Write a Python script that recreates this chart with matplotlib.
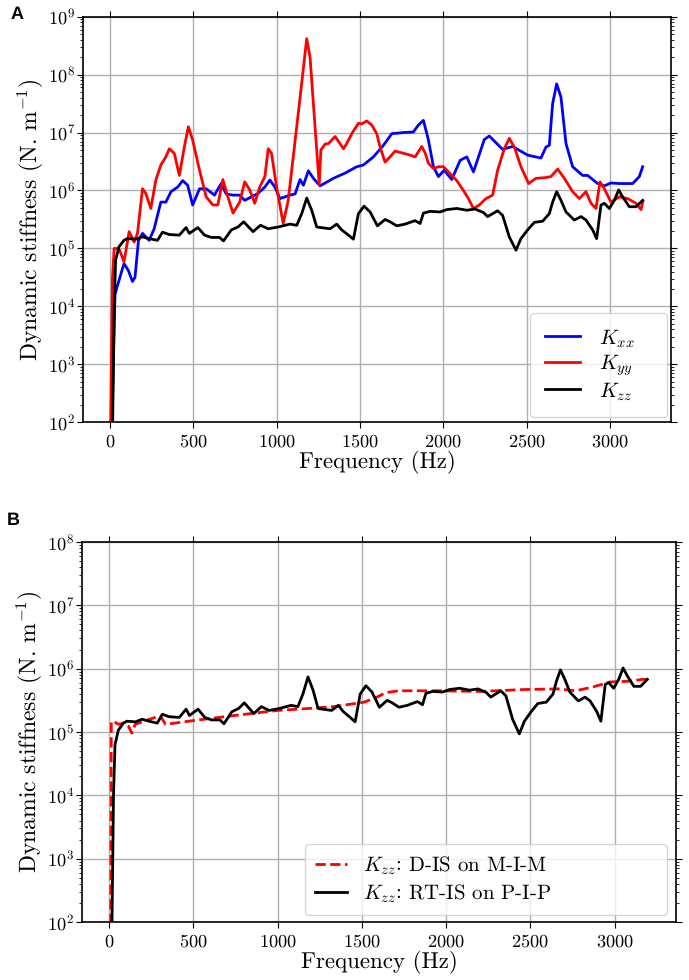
import matplotlib
import numpy as np

matplotlib.use("Agg")
import matplotlib.pyplot as plt  # noqa: E402

# values: frequency in Hz, stiffness as log10(N/m)
FREQ_XX = [8, 30, 44, 84, 110, 135, 150, 171, 195, 235, 265, 305, 335, 366, 406, 436,
           466, 496, 537, 577, 627, 667, 697, 738, 778, 808, 848, 888, 929, 959, 989,
           1019, 1079, 1110, 1140, 1160, 1190, 1220, 1260, 1340, 1410, 1480, 1520, 1580,
           1640, 1690, 1760, 1820, 1850, 1880, 1910, 1940, 1970, 2004, 2050, 2100, 2140,
           2180, 2215, 2245, 2275, 2355, 2415, 2505, 2585, 2615, 2635, 2655, 2679, 2705,
           2735, 2775, 2835, 2865, 2925, 2965, 3005, 3055, 3135, 3175, 3195]
LOG_KXX = [1.5, 4.2, 4.35, 4.74, 4.62, 4.43, 4.5, 5.14, 5.26, 5.14, 5.34, 5.80, 5.80,
           5.98, 6.06, 6.17, 6.09, 5.75, 6.03, 6.03, 5.92, 6.12, 5.94, 5.92, 5.92, 5.83,
           5.89, 5.95, 6.06, 6.18, 6.06, 5.86, 5.92, 5.94, 6.19, 6.09, 6.34, 6.21, 6.08,
           6.21, 6.30, 6.41, 6.44, 6.58, 6.78, 6.98, 7.00, 7.01, 7.13, 7.21, 6.87, 6.41,
           6.24, 6.35, 6.19, 6.52, 6.58, 6.32, 6.62, 6.88, 6.94, 6.71, 6.76, 6.61, 6.56,
           6.75, 6.78, 7.50, 7.84, 7.61, 6.81, 6.41, 6.26, 6.26, 6.12, 6.08, 6.13, 6.12,
           6.12, 6.24, 6.41]

FREQ_YY = [2, 15, 25, 38, 58, 84, 115, 145, 165, 195, 215, 245, 275, 305, 335, 356, 386,
           416, 446, 470, 496, 537, 577, 617, 647, 677, 707, 738, 778, 808, 838, 868, 898,
           929, 949, 969, 999, 1039, 1069, 1100, 1140, 1180, 1200, 1220, 1240, 1255, 1265,
           1290, 1310, 1350, 1370, 1400, 1420, 1450, 1490, 1510, 1540, 1570, 1600, 1620,
           1650, 1680, 1710, 1750, 1790, 1830, 1870, 1890, 1910, 1940, 1970, 2000, 2040,
           2080, 2120, 2150, 2180, 2215, 2255, 2295, 2325, 2365, 2395, 2425, 2465, 2511,
           2555, 2605, 2645, 2685, 2725, 2775, 2815, 2855, 2885, 2915, 2939, 2965, 3005,
           3055, 3105, 3155, 3185, 3195]
LOG_KYY = [1.5, 4.5, 5.0, 5.0, 4.97, 4.77, 5.29, 5.11, 5.26, 6.03, 5.95, 5.69, 6.18,
           6.44, 6.58, 6.72, 6.64, 6.26, 6.75, 7.10, 6.87, 6.35, 5.89, 5.75, 5.75, 6.19,
           5.89, 5.61, 5.80, 6.15, 6.01, 5.78, 6.06, 6.24, 6.72, 6.64, 6.06, 5.43, 5.83,
           6.6, 7.6, 8.62, 8.3, 7.5, 6.7, 6.1, 6.7, 6.8, 6.81, 6.93, 6.85, 6.72, 6.81,
           6.98, 7.16, 7.15, 7.20, 7.13, 6.98, 6.75, 6.49, 6.58, 6.68, 6.65, 6.62, 6.58,
           6.76, 6.65, 6.47, 6.38, 6.41, 6.41, 6.29, 6.17, 6.0, 5.86, 5.69, 5.75, 5.86,
           5.92, 6.35, 6.72, 6.90, 6.75, 6.41, 6.12, 6.21, 6.22, 6.24, 6.37, 6.21, 5.98,
           5.86, 5.98, 5.78, 5.69, 6.15, 6.03, 5.80, 5.89, 5.86, 5.78, 5.67, 5.80]

FREQ_ZZ = [14, 25, 34, 54, 84, 105, 155, 195, 235, 285, 315, 356, 416, 456, 476, 527,
           567, 607, 657, 681, 728, 768, 802, 858, 903, 949, 1009, 1079, 1120, 1150, 1180,
           1210, 1240, 1320, 1360, 1390, 1430, 1460, 1490, 1524, 1560, 1604, 1650, 1680,
           1720, 1770, 1830, 1860, 1880, 1920, 1980, 2020, 2080, 2140, 2190, 2240, 2265,
           2325, 2355, 2395, 2435, 2465, 2505, 2545, 2595, 2635, 2655, 2679, 2705, 2735,
           2785, 2825, 2855, 2895, 2919, 2945, 2965, 2995, 3025, 3051, 3075, 3115, 3155,
           3195]
LOG_KZZ = [1.5, 4.0, 4.80, 5.03, 5.14, 5.17, 5.16, 5.20, 5.17, 5.14, 5.28, 5.24, 5.23,
           5.36, 5.26, 5.36, 5.23, 5.19, 5.19, 5.13, 5.32, 5.37, 5.46, 5.29, 5.40, 5.34,
           5.37, 5.42, 5.40, 5.60, 5.87, 5.66, 5.37, 5.34, 5.42, 5.32, 5.23, 5.16, 5.60,
           5.73, 5.63, 5.39, 5.50, 5.46, 5.39, 5.42, 5.48, 5.43, 5.61, 5.64, 5.63, 5.67,
           5.69, 5.66, 5.68, 5.62, 5.55, 5.65, 5.57, 5.20, 4.97, 5.17, 5.32, 5.45, 5.47,
           5.60, 5.80, 5.98, 5.83, 5.63, 5.49, 5.55, 5.49, 5.32, 5.17, 5.75, 5.78, 5.69,
           5.83, 6.01, 5.89, 5.72, 5.72, 5.83]

FREQ_DIS = [8, 12, 25, 55, 85, 114, 134, 154, 204, 284, 304, 334, 500, 744, 1000, 1180,
            1333, 1385, 1513, 1590, 1641, 1718, 1949, 2205, 2462, 2667, 2769, 2872, 2974,
            3077, 3167, 3200]
LOG_KZZ_DIS = [1.5, 5.16, 5.17, 5.12, 5.14, 5.09, 4.98, 5.12, 5.17, 5.24, 5.25, 5.12,
               5.18, 5.26, 5.34, 5.37, 5.40, 5.42, 5.47, 5.55, 5.62, 5.65, 5.65, 5.64,
               5.67, 5.68, 5.65, 5.71, 5.79, 5.80, 5.83, 5.83]

XTICKS = [0, 500, 1000, 1500, 2000, 2500, 3000]

plt.rcParams.update(
    {
        "font.family": "cmr10",
        "mathtext.fontset": "cm",
        "axes.formatter.use_mathtext": True,
        "text.hinting": "none",
        "axes.linewidth": 1.2,
        "xtick.direction": "out",
        "ytick.direction": "out",
        "xtick.top": True,
        "ytick.right": True,
        "xtick.labelsize": 13.2,
        "ytick.labelsize": 13.2,
        "xtick.major.size": 4,
        "ytick.major.size": 4.5,
        "ytick.minor.size": 2.5,
        "xtick.major.pad": 4,
        "ytick.major.pad": 1.5,
        "grid.color": "#b0b0b0",
        "grid.linewidth": 1.0,
    }
)


def style_axes(ax, ymax):
    ax.set_yscale("log")
    ax.set_xlim(-160, 3365)
    ax.set_ylim(1e2, ymax)
    ax.set_xticks(XTICKS)
    ax.grid(True, which="major")
    ax.set_axisbelow(True)
    ax.set_xlabel("Frequency (Hz)", fontsize=16.5, labelpad=0)
    ax.set_ylabel(r"Dynamic stiffness $(\mathrm{N.\,m}^{-1})$", fontsize=17, labelpad=2)


fig = plt.figure(figsize=(6.89, 9.8), dpi=100)

ax1 = fig.add_axes([0.1209, 0.5691, 0.8530, 0.4139])
ax1.plot(FREQ_XX, 10 ** np.array(LOG_KXX), color="#0000ff", lw=2, label=r"$K_{xx}$")
ax1.plot(FREQ_YY, 10 ** np.array(LOG_KYY), color="#ff0000", lw=2, label=r"$K_{yy}$")
ax1.plot(FREQ_ZZ, 10 ** np.array(LOG_KZZ), color="black", lw=2, label=r"$K_{zz}$")
style_axes(ax1, 1e9)
ax1.legend(
    loc="lower left",
    bbox_to_anchor=(0.76, 0.013, 0.233, 0.25),
    mode="expand",
    borderaxespad=0,
    fontsize=15,
    borderpad=0.7,
    labelspacing=0.15,
    handlelength=1.7,
    handletextpad=0.9,
    edgecolor="#cccccc",
    fancybox=True,
)

ax2 = fig.add_axes([0.1195, 0.0592, 0.8616, 0.3878])
ax2.plot(FREQ_DIS, 10 ** np.array(LOG_KZZ_DIS), color="#ff0000", lw=2, ls="--",
         label=r"$K_{zz}$: D-IS on M-I-M")
ax2.plot(FREQ_ZZ, 10 ** np.array(LOG_KZZ), color="black", lw=2,
         label=r"$K_{zz}$: RT-IS on P-I-P")
style_axes(ax2, 1e8)
ax2.legend(
    loc="lower left",
    bbox_to_anchor=(0.375, 0.018, 0.61, 0.2),
    mode="expand",
    borderaxespad=0,
    fontsize=15,
    borderpad=0.5,
    labelspacing=0.25,
    handlelength=1.5,
    handletextpad=0.8,
    edgecolor="#cccccc",
    fancybox=True,
)

fig.text(0.015, 0.985, "A", family="Liberation Sans", weight="bold", fontsize=13, va="center")
fig.text(0.010, 0.469, "B", family="Liberation Sans", weight="bold", fontsize=13, va="center")

fig.savefig("out.png")
